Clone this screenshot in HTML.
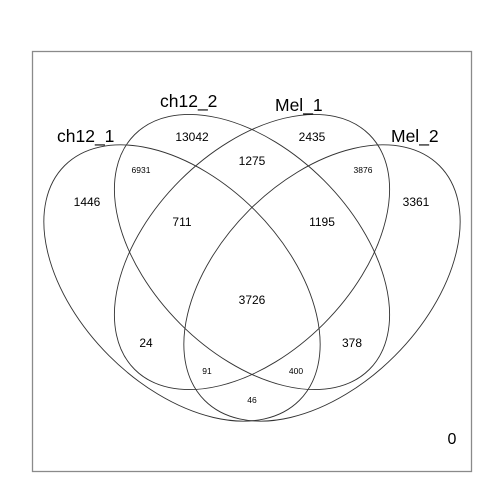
<!DOCTYPE html>
<html><head><meta charset="utf-8"><style>
html,body{margin:0;padding:0;background:#fff;}
svg{display:block;}
text{font-family:"Liberation Sans",Arial,sans-serif;fill:#000;}
</style></head><body>
<svg width="504" height="504" viewBox="0 0 504 504" xmlns="http://www.w3.org/2000/svg">
<rect x="0" y="0" width="504" height="504" fill="#fff"/>
<rect x="32.5" y="51.5" width="439" height="420" fill="none" stroke="#8a8a8a" stroke-width="1.3"/>
<g fill="none" stroke="#333" stroke-width="0.9">
<ellipse cx="182" cy="283" rx="166" ry="103" transform="rotate(45 182 283)"/>
<ellipse cx="252" cy="252" rx="166" ry="101.5" transform="rotate(45 252 252)"/>
<ellipse cx="252" cy="252" rx="166" ry="101.5" transform="rotate(-45 252 252)"/>
<ellipse cx="322" cy="283" rx="166" ry="103" transform="rotate(-45 322 283)"/>
</g>
<g font-size="17.5">
<text x="57" y="142">ch12_1</text>
<text x="160" y="107">ch12_2</text>
<text x="275" y="111">Mel_1</text>
<text x="391" y="142">Mel_2</text>
</g>
<g font-size="12" text-anchor="middle" dominant-baseline="central">
<text x="87" y="202">1446</text>
<text x="192" y="137">13042</text>
<text x="312" y="137">2435</text>
<text x="416" y="202">3361</text>
<text x="252" y="161">1275</text>
<text x="182" y="222">711</text>
<text x="322" y="222">1195</text>
<text x="252" y="300">3726</text>
<text x="146" y="343">24</text>
<text x="352" y="343">378</text>
</g>
<g font-size="8.5" text-anchor="middle" dominant-baseline="central">
<text x="141" y="170">6931</text>
<text x="363" y="170">3876</text>
<text x="207" y="371">91</text>
<text x="296" y="371">400</text>
<text x="252" y="400">46</text>
</g>
<text x="452" y="444" font-size="16" text-anchor="middle">0</text>
</svg>
</body></html>
